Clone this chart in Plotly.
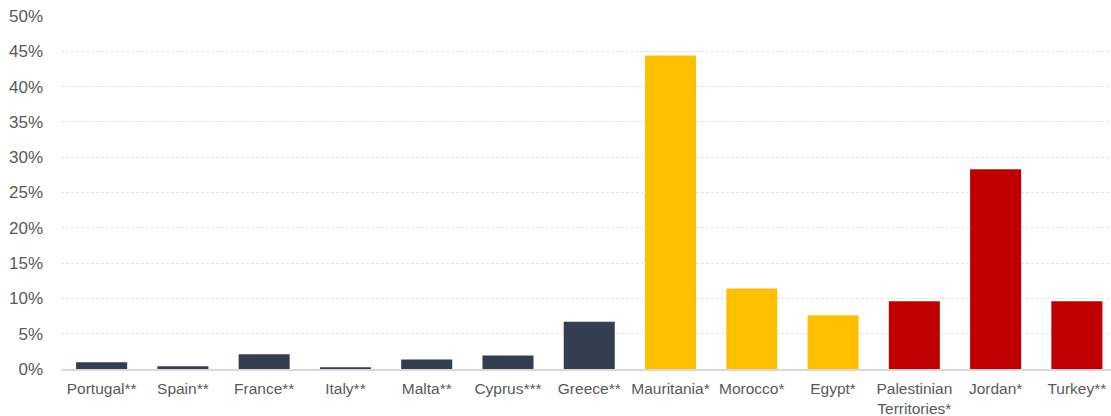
import plotly.graph_objects as go

categories = ["Portugal**", "Spain**", "France**", "Italy**", "Malta**", "Cyprus***",
              "Greece**", "Mauritania*", "Morocco*", "Egypt*",
              "Palestinian<br>Territories*", "Jordan*", "Turkey**"]
values = [0.95, 0.4, 2.1, 0.25, 1.35, 1.9, 6.7, 44.4, 11.4, 7.6, 9.6, 28.3, 9.6]
colors = ["#333F50"] * 7 + ["#FFC000"] * 3 + ["#C00000"] * 3
y_ticks = [0, 5, 10, 15, 20, 25, 30, 35, 40, 45, 50]
y_labels = [f"{t}%" for t in y_ticks]

fig = go.Figure(go.Bar(
    x=list(range(len(categories))), y=values, marker=dict(color=colors, line=dict(width=0)),
    hoverinfo="skip",
))

fig.update_layout(
    width=1111, height=416,
    margin=dict(l=61, r=0, t=16, b=47),
    paper_bgcolor="white", plot_bgcolor="white",
    bargap=0.372, showlegend=False, hovermode=False,
    font=dict(family="Liberation Sans, Arial, sans-serif", color="#595959"),
)
fig.update_xaxes(
    tickmode="array", tickvals=list(range(len(categories))), ticktext=categories,
    range=[-0.5, 12.42], showgrid=False, zeroline=False,
    showline=True, linecolor="#d9d9d9", linewidth=2,
    ticks="", ticklabelstandoff=4, tickfont=dict(size=15.5, color="#595959"),
)
fig.update_yaxes(
    range=[0, 50], tickvals=y_ticks, ticktext=y_labels,
    showgrid=True, gridcolor="#e3e3e3", gridwidth=1, griddash="3px,2px",
    zeroline=False, showline=False, ticks="", ticklabelstandoff=17,
    tickfont=dict(size=17, color="#595959"),
)

fig.write_html(
    "out.html",
    config={"displayModeBar": False, "staticPlot": True},
    post_script="document.body.style.margin='0';document.body.style.overflow='hidden';",
)
